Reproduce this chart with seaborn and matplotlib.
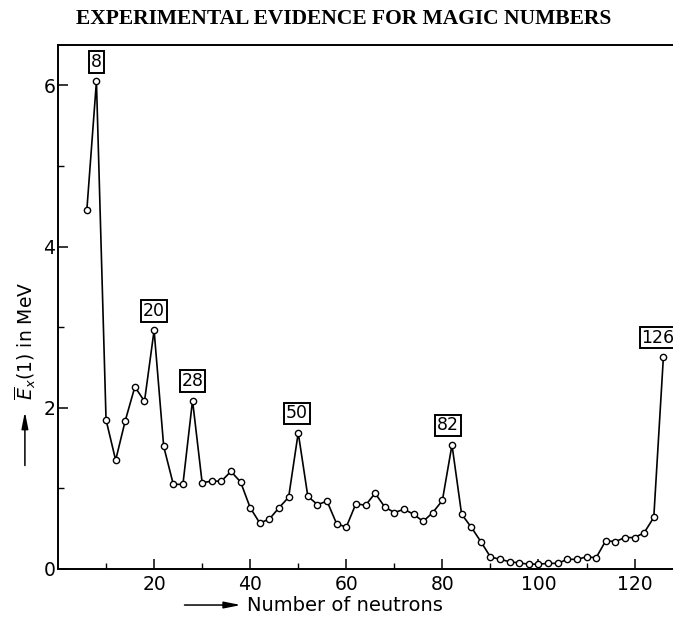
import matplotlib
matplotlib.use("Agg")
import matplotlib.pyplot as plt
import seaborn as sns
import pandas as pd

# Neutron number and mean first excitation energy (MeV)
neutrons = [6, 8, 10, 12, 14, 16, 18, 20, 22, 24, 26, 28, 30, 32, 34, 36, 38, 40,
            42, 44, 46, 48, 50, 52, 54, 56, 58, 60, 62, 64, 66, 68, 70, 72, 74, 76,
            78, 80, 82, 84, 86, 88, 90, 92, 94, 96, 98, 100, 102, 104, 106, 108,
            110, 112, 114, 116, 118, 120, 122, 124, 126]
energy = [4.45, 6.05, 1.85, 1.35, 1.84, 2.26, 2.08, 2.96, 1.52, 1.05, 1.05, 2.09,
          1.07, 1.09, 1.09, 1.21, 1.08, 0.76, 0.57, 0.62, 0.76, 0.89, 1.69, 0.90,
          0.80, 0.84, 0.56, 0.52, 0.81, 0.79, 0.94, 0.77, 0.70, 0.74, 0.68, 0.59,
          0.70, 0.85, 1.54, 0.68, 0.52, 0.34, 0.15, 0.12, 0.09, 0.075, 0.06, 0.06,
          0.07, 0.07, 0.12, 0.12, 0.15, 0.14, 0.35, 0.34, 0.39, 0.39, 0.45, 0.64,
          2.63]
magic = [8, 20, 28, 50, 82, 126]
magic_dx = [0, 0, 0, -1, -3, -4]

df = pd.DataFrame({"N": neutrons, "E": energy})

sns.set_style("ticks", {"axes.edgecolor": "black", "text.color": "black",
                        "xtick.color": "black", "ytick.color": "black",
                        "axes.labelcolor": "black"})
plt.rcParams["font.family"] = ["DejaVu Sans"]

fig = plt.figure(figsize=(6.73, 6.17), dpi=100)
ax = fig.add_axes([58 / 673, 48 / 617, 615 / 673, 524 / 617])

sns.lineplot(data=df, x="N", y="E", ax=ax, color="black", linewidth=1.2,
             marker="o", markersize=4.5, markerfacecolor="white",
             markeredgecolor="black", markeredgewidth=1.0)

# boxed magic numbers above their peaks
for m, dx in zip(magic, magic_dx):
    e = energy[neutrons.index(m)]
    ax.annotate(str(m), xy=(m, e), xytext=(dx, 14), textcoords="offset points",
                ha="center", va="center", fontsize=12.5, annotation_clip=False,
                bbox=dict(boxstyle="square,pad=0.1", fc="white", ec="black", lw=1.4))

ax.set_xlim(0, 128)
ax.set_ylim(0, 6.5)
ax.set_xticks([20, 40, 60, 80, 100, 120])
ax.set_xticks([10, 30, 50, 70, 90, 110], minor=True)
ax.set_yticks([0, 2, 4, 6])
ax.set_yticks([1, 3, 5], minor=True)
ax.tick_params(which="major", direction="in", length=7, width=1.1, labelsize=13.5, pad=4)
ax.tick_params(which="minor", direction="in", length=4, width=1.0)
ax.tick_params(axis="y", pad=2)
ax.set_xlabel("")
ax.set_ylabel("")
for side in ["left", "bottom", "top"]:
    ax.spines[side].set_linewidth(1.4)
ax.spines["right"].set_visible(False)

# axis captions with arrows
arrow = dict(arrowstyle="-|>,head_length=1.0,head_width=0.2", color="black", lw=1.1)
ax.annotate("", xy=(0.362, 0.0194), xytext=(0.27, 0.0194), xycoords="figure fraction",
            textcoords="figure fraction", arrowprops=arrow, annotation_clip=False)
fig.text(0.367, 0.0194, "Number of neutrons", fontsize=14, va="center", ha="left")

ax.annotate("", xy=(0.037, 0.337), xytext=(0.037, 0.241), xycoords="figure fraction",
            textcoords="figure fraction", arrowprops=arrow, annotation_clip=False)
fig.text(0.037, 0.447, r"$\overline{E}_x(1)$ in MeV", fontsize=13.5, rotation=90,
         va="center", ha="center")

fig.text(0.511, 0.969, "EXPERIMENTAL EVIDENCE FOR MAGIC NUMBERS",
         fontsize=15.5, fontweight="bold", family="Liberation Serif",
         ha="center", va="center")

fig.savefig("out.png", dpi=100)
